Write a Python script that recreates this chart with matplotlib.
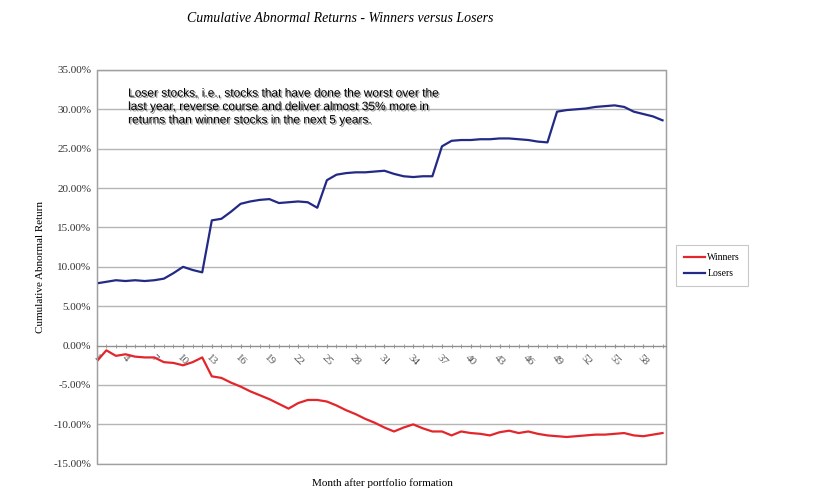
import matplotlib
matplotlib.use("Agg")
import matplotlib.pyplot as plt
import matplotlib.patheffects as pe
from matplotlib.patches import Rectangle
from matplotlib.ticker import FuncFormatter, MultipleLocator

months = list(range(1, 61))
winners = [-2.0, -0.6, -1.3, -1.1, -1.4, -1.5, -1.5, -2.1, -2.2, -2.5,
           -2.1, -1.5, -3.9, -4.1, -4.7, -5.2, -5.8, -6.3, -6.8, -7.4,
           -8.0, -7.3, -6.9, -6.9, -7.1, -7.6, -8.2, -8.7, -9.3, -9.8,
           -10.4, -10.9, -10.4, -10.0, -10.5, -10.9, -10.9, -11.4, -10.9, -11.1,
           -11.2, -11.4, -11.0, -10.8, -11.1, -10.9, -11.2, -11.4, -11.5, -11.6,
           -11.5, -11.4, -11.3, -11.3, -11.2, -11.1, -11.4, -11.5, -11.3, -11.1]
losers = [7.9, 8.1, 8.3, 8.2, 8.3, 8.2, 8.3, 8.5, 9.2, 10.0,
          9.6, 9.3, 15.9, 16.1, 17.0, 18.0, 18.3, 18.5, 18.6, 18.1,
          18.2, 18.3, 18.2, 17.5, 21.0, 21.7, 21.9, 22.0, 22.0, 22.1,
          22.2, 21.8, 21.5, 21.4, 21.5, 21.5, 25.3, 26.0, 26.1, 26.1,
          26.2, 26.2, 26.3, 26.3, 26.2, 26.1, 25.9, 25.8, 29.7, 29.9,
          30.0, 30.1, 30.3, 30.4, 30.5, 30.3, 29.7, 29.4, 29.1, 28.6]
tick_months = list(range(1, 59, 3))
note = ("Loser stocks, i.e., stocks that have done the worst over the\n"
        "last year, reverse course and deliver almost 35% more in\n"
        "returns than winner stocks in the next 5 years.")

serif = "Liberation Serif"

fig = plt.figure(figsize=(8.34, 5.03), dpi=100)
ax = fig.add_axes([0.116, 0.078, 0.683, 0.783])

ax.plot(months, winners, color="#e3262b", linewidth=1.6, label="Winners")
ax.plot(months, losers, color="#232a86", linewidth=1.6, label="Losers")

ax.set_ylim(-15, 35)
ax.set_xlim(1, 60.4)
ax.yaxis.set_major_locator(MultipleLocator(5))
ax.yaxis.set_major_formatter(FuncFormatter(lambda v, p: "{:.2f}%".format(v + 0.0)))
ax.grid(axis="y", color="#b5b5b5", linewidth=1)
ax.set_axisbelow(True)

for s in ["top", "left", "right"]:
    ax.spines[s].set_color("#a0a0a0")
ax.spines["bottom"].set_position(("data", 0))
ax.spines["bottom"].set_color("#909090")
# plot area border (bottom edge at -15%)
ax.add_patch(Rectangle((0, 0), 1, 1, transform=ax.transAxes, fill=False,
                       edgecolor="#a0a0a0", linewidth=1, clip_on=False, zorder=0.5))

ax.set_xticks(tick_months)
ax.set_xticklabels([str(m) for m in tick_months], rotation=-45,
                   ha="center", va="top",
                   family=serif, fontsize=8, color="#555555")
ax.set_xticks(months, minor=True)
ax.tick_params(axis="x", which="both", length=3, direction="inout",
               color="#909090", pad=4)
ax.tick_params(axis="y", length=0, pad=4, labelsize=8, labelcolor="#333333")
for lbl in ax.get_yticklabels():
    lbl.set_family(serif)

ax.set_ylabel("Cumulative Abnormal Return", family=serif, fontsize=8, labelpad=6)
fig.text(0.458, 0.04, "Month after portfolio formation", family=serif,
         fontsize=8, ha="center", va="center")
fig.text(0.408, 0.963, "Cumulative Abnormal Returns - Winners versus Losers",
         family=serif, style="italic", fontsize=10, ha="center", va="center")

ax.text(0.055, 0.955, note, transform=ax.transAxes, family="Liberation Sans",
        fontsize=8.6, va="top", ha="left", linespacing=1.15,
        path_effects=[pe.withSimplePatchShadow(offset=(1, -1), shadow_rgbFace="#8a8a8a", alpha=0.9)])

leg = fig.legend(loc="center left", bbox_to_anchor=(0.805, 0.472),
                 prop={"family": serif, "size": 7}, frameon=True,
                 fancybox=False, handlelength=2.2, handletextpad=0.2,
                 labelspacing=0.7, borderpad=0.8)
leg.get_frame().set_edgecolor("#bbbbbb")
leg.get_frame().set_linewidth(0.8)

fig.savefig("out.png", dpi=100)
